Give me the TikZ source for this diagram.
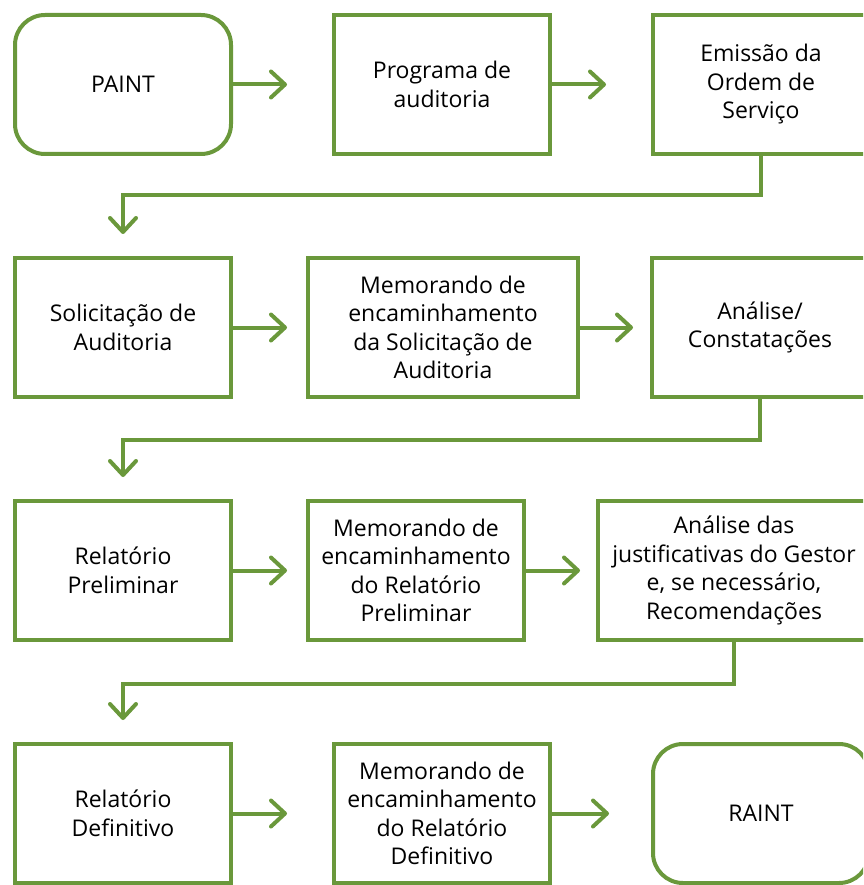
\documentclass[tikz,border=0pt]{standalone}
\usepackage{fontspec}
\setmainfont{Open Sans}
\usepackage{tikz}
\usetikzlibrary{
  arrows.meta,
  calc,
  positioning,
}
\definecolor{flowgreen}{RGB}{106, 152, 59}
\tikzstyle{box} = [
  draw=flowgreen,
  rectangle,
  line width=4pt,
  minimum width=216pt,
  minimum height=139pt,
  align=center,
  font=\fontsize{23}{28.5}\selectfont,
]
\tikzstyle{endbox} = [
  box,
  rounded corners=30pt,
]
\tikzstyle{arrow} = [
  -{Straight Barb[length=14pt,width=26pt,round]},
  line width=4pt,
  flowgreen,
]

\begin{document}
\begin{tikzpicture}[x=1pt,y=1pt,node distance=100pt and 99pt]
        \useasboundingbox (0,0) rectangle (863,-885);
        \clip (0,0) rectangle (863,-885);

        % first row
        \node[endbox]    (a0)  at (123,-84.5)   {PAINT};
        \node[box]       (a1)  [right=of a0]    {Programa de\\auditoria};
        \node[box]       (a2)  [right=of a1]    {Emissão da\\Ordem de\\Serviço};

        % second row
        \node[box]       (b0)  [below=of a0]    {Solicitação de\\Auditoria};
        \node[box,minimum width=270pt]    (b1)  [right=73pt of b0]    {Memorando de\\encaminhamento\\da Solicitação de\\Auditoria};
        \node[box]       (b2)  [right=70pt of b1]    {Análise/\\Constatações};

        % third row
        \node[box]       (c0)  [below=of b0]    {Relatório\\Preliminar};
        \node[box]       (c1)  [right=73pt of c0]    {Memorando de\\encaminhamento\\do Relatório\\Preliminar};
        \node[box,minimum width=272pt]    (c2)  [right=70pt of c1]    {Análise das\\justificativas do Gestor\\e, se necessário,\\Recomendações};

        % last row
        \node[box]       (d0)  [below=of c0]    {Relatório\\Definitivo};
        \node[box]       (d1)  [right=of d0]    {Memorando de\\encaminhamento\\do Relatório\\Definitivo};
        \node[endbox]    (d2)  [right=of d1]    {RAINT};

        \draw[arrow,shorten >=45pt] (a0) -- (a1);
        \draw[arrow,shorten >=45pt] (a1) -- (a2);
        \draw[arrow,shorten >=22pt] (a2.south) -- ++(0,-39) -| (b0.north);

        \draw[arrow,shorten >=19pt] (b0) -- (b1);
        \draw[arrow,shorten >=17pt] (b1) -- (b2);
        \draw[arrow,shorten >=22pt] (b2.south) -- ++(0,-41) -| (c0.north);

        \draw[arrow,shorten >=19pt] (c0) -- (c1);
        \draw[arrow,shorten >=16pt] (c1) -- (c2);
        \draw[arrow,shorten >=22pt] (c2.south) -- ++(0,-42) -| (d0.north);

        \draw[arrow,shorten >=45pt] (d0) -- (d1);
        \draw[arrow,shorten >=42pt] (d1) -- (d2);
    \end{tikzpicture}
\end{document}
